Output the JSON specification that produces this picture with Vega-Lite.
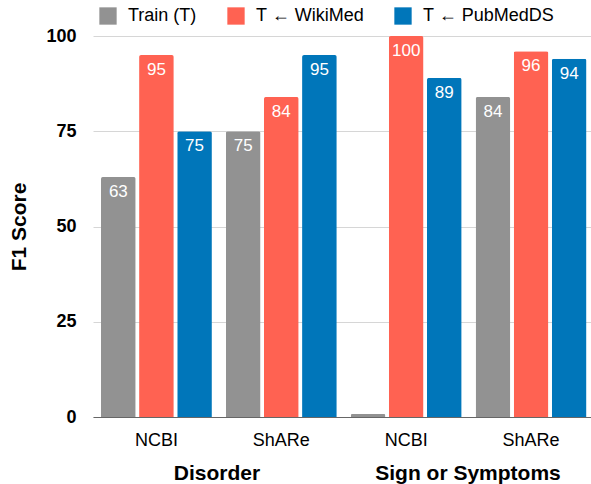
{
  "$schema": "https://vega.github.io/schema/vega-lite/v6.json",
  "autosize": "none",
  "padding": {"left": 93, "top": 36, "right": 0, "bottom": 67},
  "width": 498,
  "height": 381,
  "config": {"font": "Liberation Sans", "view": {"stroke": null}},
  "layer": [
    {
      "data": {"values": [
        {"key": "Disorder|NCBI", "series": "Train (T)", "f1": 63},
        {"key": "Disorder|NCBI", "series": "T ← WikiMed", "f1": 95},
        {"key": "Disorder|NCBI", "series": "T ← PubMedDS", "f1": 75},
        {"key": "Disorder|ShARe", "series": "Train (T)", "f1": 75},
        {"key": "Disorder|ShARe", "series": "T ← WikiMed", "f1": 84},
        {"key": "Disorder|ShARe", "series": "T ← PubMedDS", "f1": 95},
        {"key": "Sign or Symptoms|NCBI", "series": "Train (T)", "f1": 0.8},
        {"key": "Sign or Symptoms|NCBI", "series": "T ← WikiMed", "f1": 100},
        {"key": "Sign or Symptoms|NCBI", "series": "T ← PubMedDS", "f1": 89},
        {"key": "Sign or Symptoms|ShARe", "series": "Train (T)", "f1": 84},
        {"key": "Sign or Symptoms|ShARe", "series": "T ← WikiMed", "f1": 96},
        {"key": "Sign or Symptoms|ShARe", "series": "T ← PubMedDS", "f1": 94}
      ]},
      "encoding": {
        "x": {
          "field": "key", "type": "nominal", "sort": null,
          "scale": {"paddingInner": 0.112, "paddingOuter": 0.05, "align": 0.64},
          "axis": {
            "orient": "bottom", "title": null,
            "labelExpr": "split(datum.value, '|')[1]",
            "labelAngle": 0, "labelFontSize": 18, "labelColor": "#000000",
            "labelPadding": 14, "ticks": false,
            "domain": true, "domainColor": "#666666", "domainWidth": 1
          }
        },
        "xOffset": {"field": "series", "type": "nominal", "sort": ["Train (T)", "T ← WikiMed", "T ← PubMedDS"], "scale": {"paddingInner": 0.09}},
        "y": {
          "field": "f1", "type": "quantitative",
          "scale": {"domain": [0, 100], "nice": false},
          "axis": {
            "values": [0, 25, 50, 75, 100], "title": "F1 Score",
            "grid": true, "gridColor": "#d6d6d6", "domain": false, "ticks": false,
            "labelFontSize": 18, "labelFontWeight": "bold", "labelColor": "#000000", "labelPadding": 17,
            "titleFontSize": 21, "titleFontWeight": "bold", "titleColor": "#000000", "titlePadding": 16
          }
        }
      },
      "layer": [
        {
          "mark": {"type": "bar", "cornerRadiusEnd": 2},
          "encoding": {
            "color": {
              "field": "series", "type": "nominal",
              "scale": {"domain": ["Train (T)", "T ← WikiMed", "T ← PubMedDS"], "range": ["#929292", "#FF6252", "#0076BA"]},
              "legend": {
                "title": null, "orient": "none", "legendX": 6, "legendY": -29,
                "direction": "horizontal", "symbolType": "square", "symbolSize": 300,
                "symbolStrokeWidth": 0, "symbolOpacity": 1, "labelFontSize": 18, "labelOffset": 11,
                "columnPadding": 30, "padding": 0, "labelColor": "#000000", "labelLimit": 0
              }
            }
          }
        },
        {
          "transform": [{"filter": "datum.f1 >= 5"}],
          "mark": {"type": "text", "color": "#ffffff", "fontSize": 17, "baseline": "alphabetic", "dy": 20},
          "encoding": {"text": {"field": "f1", "type": "quantitative"}}
        }
      ]
    },
    {
      "data": {"values": [{"group": "Disorder"}, {"group": "Sign or Symptoms"}]},
      "mark": {"type": "point", "opacity": 0},
      "encoding": {
        "x": {
          "field": "group", "type": "nominal", "sort": null,
          "scale": {"type": "point", "padding": 0.492, "align": 0.5},
          "axis": {
            "orient": "bottom", "title": null, "labelAngle": 0, "domain": false, "ticks": false, "grid": false,
            "labelFontSize": 21, "labelFontWeight": "bold", "labelColor": "#000000", "labelPadding": 45,
            "labelLimit": 0, "labelOverlap": false
          }
        },
        "y": {"datum": 0, "type": "quantitative"}
      }
    }
  ],
  "resolve": {"scale": {"x": "independent"}, "axis": {"x": "independent"}}
}
